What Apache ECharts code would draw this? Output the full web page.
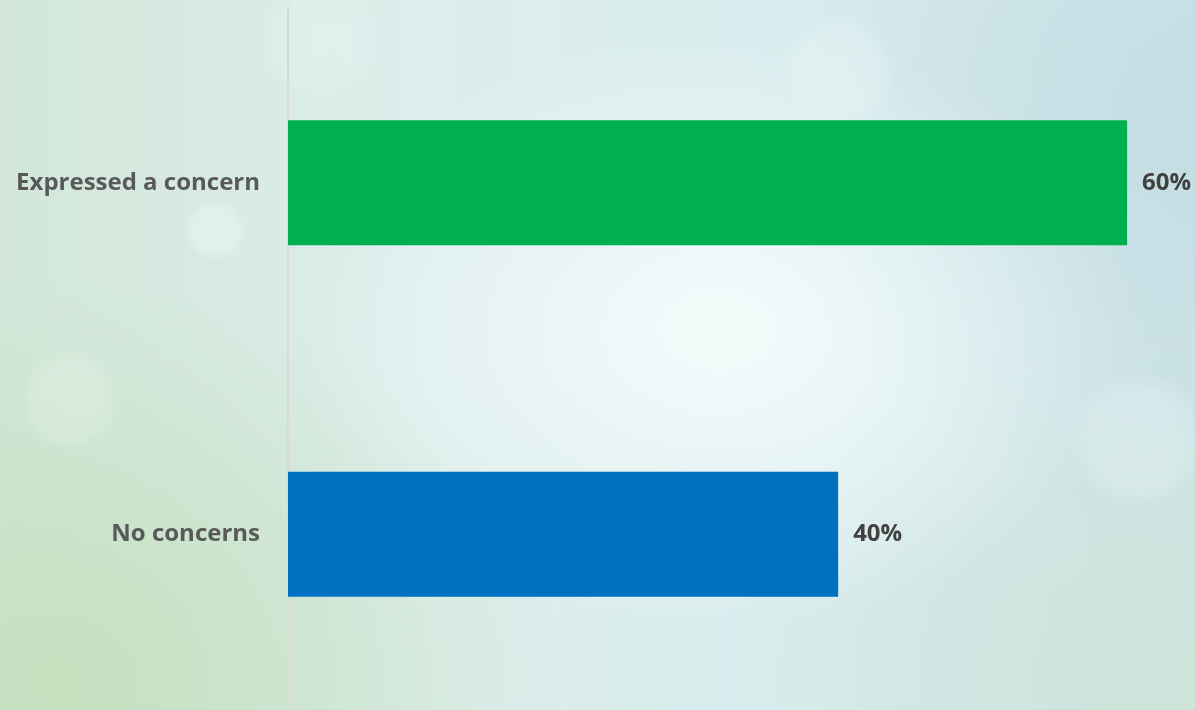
<!DOCTYPE html>
<html>
<head>
<meta charset="utf-8">
<script src="https://cdn.jsdelivr.net/npm/echarts@6/dist/echarts.min.js"></script>
<style>
  html, body {
    margin: 0;
    padding: 0;
    width: 1195px;
    height: 710px;
    overflow: hidden;
  }
  body {
    background:
      radial-gradient(circle at 215px 230px, rgba(240,250,248,0.45) 0, rgba(240,250,248,0.35) 22px, rgba(240,250,248,0) 32px),
      radial-gradient(circle at 70px 400px, rgba(235,248,240,0.3) 0, rgba(235,248,240,0.25) 38px, rgba(235,248,240,0) 52px),
      radial-gradient(circle at 1140px 440px, rgba(235,246,246,0.35) 0, rgba(235,246,246,0.3) 50px, rgba(235,246,246,0) 68px),
      radial-gradient(circle at 840px 70px, rgba(238,248,248,0.35) 0, rgba(238,248,248,0.3) 40px, rgba(238,248,248,0) 58px),
      radial-gradient(circle at 320px 40px, rgba(238,248,248,0.3) 0, rgba(238,248,248,0.25) 45px, rgba(238,248,248,0) 62px),
      radial-gradient(ellipse 420px 300px at 720px 330px, rgba(246,252,252,0.95), rgba(246,252,252,0)),
      radial-gradient(ellipse 500px 400px at 60px 680px, rgba(196,224,190,1), rgba(196,224,190,0)),
      radial-gradient(ellipse 420px 420px at 1195px 120px, rgba(196,222,228,1), rgba(196,222,228,0)),
      radial-gradient(ellipse 420px 360px at 1150px 680px, rgba(205,228,218,1), rgba(205,228,218,0)),
      linear-gradient(90deg, #d2e7da 0%, #dcedeb 35%, #d8ecee 70%, #cfe3e7 100%);
  }
  #chart {
    width: 1195px;
    height: 710px;
  }
</style>
</head>
<body>
<div id="chart"></div>
<script>
// answers, top to bottom
const categories = ["Expressed a concern", "No concerns"];
const shares = [60.4, 39.6];
const barColors = ["#00B050", "#0070C0"];

const chart = echarts.init(document.getElementById("chart"));

const option = {
  backgroundColor: "transparent",
  animation: false,
  grid: {
    left: 288,
    right: 4,
    top: 7,
    bottom: -3,
  },
  xAxis: {
    type: "value",
    min: 0,
    max: 65,
    show: false,
    splitLine: { show: false },
  },
  yAxis: {
    type: "category",
    inverse: true,
    data: categories,
    axisLine: {
      show: true,
      lineStyle: { color: "#d9d9d9", width: 2 },
    },
    axisTick: { show: false },
    axisLabel: {
      margin: 28,
      color: "#595959",
      fontSize: 24,
      fontWeight: "bold",
      fontFamily: "Open Sans",
    },
  },
  series: [
    {
      type: "bar",
      barWidth: 125,
      data: shares.map((v, i) => ({
        value: v,
        itemStyle: { color: barColors[i] },
      })),
      label: {
        show: true,
        position: "right",
        distance: 15,
        color: "#404040",
        fontSize: 24,
        fontWeight: "bold",
        fontFamily: "Open Sans",
        formatter: (p) => Math.round(p.value) + "%",
      },
    },
  ],
};

chart.setOption(option);
</script>
</body>
</html>
